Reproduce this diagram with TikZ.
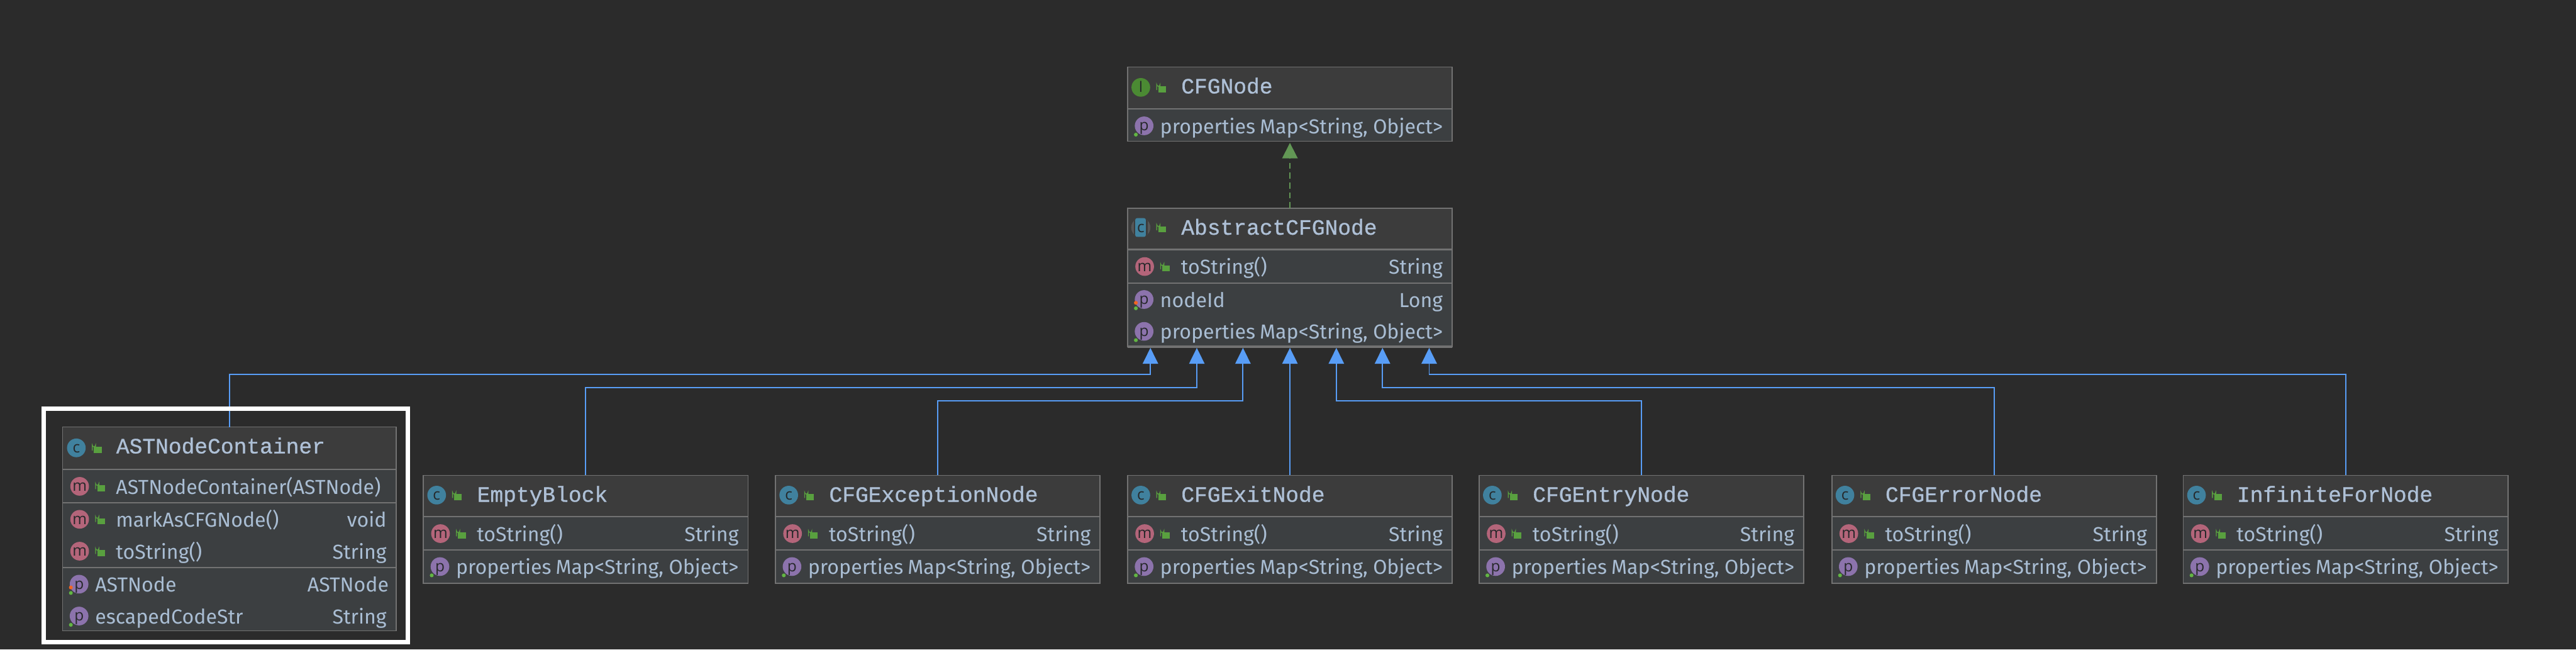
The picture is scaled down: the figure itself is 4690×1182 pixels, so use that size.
\documentclass[tikz,border=0pt]{standalone}
\usepackage{fontspec}
\usetikzlibrary{arrows.meta}
\setmainfont{Fira Sans}
\newfontfamily\titlefam[FakeBold=0.9]{Liberation Mono}
\newfontfamily\glyphfam{Open Sans}
\definecolor{bg}{HTML}{2B2B2B}
\definecolor{headc}{HTML}{3C3C3C}
\definecolor{bodyc}{HTML}{3C3F41}
\definecolor{edgec}{HTML}{727272}
\definecolor{linkc}{HTML}{589DF6}
\definecolor{implc}{HTML}{629755}
\definecolor{textc}{HTML}{A9BDD3}
\definecolor{titlec}{HTML}{AEC0D6}
\definecolor{lockc}{HTML}{59A03F}
\definecolor{cic}{HTML}{40819E}
\definecolor{mic}{HTML}{B4657A}
\definecolor{pic}{HTML}{8C73AC}
\definecolor{iic}{HTML}{4B8A33}
\definecolor{glyphc}{HTML}{26282A}
\definecolor{flagg}{HTML}{62B543}
\definecolor{flago}{HTML}{F26522}
\tikzset{
  umlbox/.style={draw=edgec,line width=2pt,fill=bodyc,inner sep=0pt,outer sep=0pt,anchor=north west},
  sepline/.style={draw=edgec,line width=2.4pt},
  titletext/.style={inner sep=0pt,anchor=base west,text=titlec,font=\titlefam\fontsize{39.6}{39.6}\selectfont},
  rowleft/.style={inner sep=0pt,anchor=base west,text=textc,font=\fontsize{36.8}{36.8}\selectfont},
  rowright/.style={inner sep=0pt,anchor=base east,text=textc,font=\fontsize{36.8}{36.8}\selectfont},
  glyph/.style={inner sep=0pt,anchor=base,text=glyphc,font=\glyphfam\fontsize{28}{28}\selectfont},
  inherit/.style={draw=linkc,line width=2.2pt,-{Triangle[length=29pt,width=28pt,fill=linkc]}},
  realize/.style={draw=implc,line width=2pt,dash pattern=on 11pt off 7pt,-{Triangle[length=28pt,width=28pt,fill=implc]}},
  frameline/.style={draw=white,line width=8pt,inner sep=0pt,outer sep=0pt,anchor=north west}
}
\newcount\itemno
\newcommand{\nextname}{\global\advance\itemno by 1 }
\newcommand{\lockicon}[2]{%
  \fill[lockc] (#1+32,#2-2) rectangle (#1+46,#2+9);
  \draw[lockc,line width=1.5pt] (#1+29,#2+5) -- (#1+29,#2-5) arc[start angle=180,end angle=0,radius=3] -- (#1+35,#2-2);
}
\newcommand{\kindicon}[4]{%
  \fill[#3] (#1,#2) circle[radius=17];
  \nextname\node[glyph] (g\the\itemno) at (#1,#2+9) {#4};
}
\newcommand{\absicon}[2]{%
  \begin{scope}
    \clip (#1,#2) circle[radius=17.5];
    \fill[edgec!120] (#1-18,#2-18) rectangle (#1+18,#2+18);
    \fill[headc] (#1-13,#2-18) rectangle (#1+13,#2+18);
  \end{scope}
  \fill[cic,rounded corners=3pt] (#1-10,#2-17) rectangle (#1+9,#2+17);
  \nextname\node[glyph] (g\the\itemno) at (#1,#2+9) {c};
}
\newcommand{\headline}[6]{%
  \fill[headc] (#2+1,#3+1) rectangle (#2+#4-1,#5);
  \draw[sepline] (#2,#5) -- (#2+#4,#5);
  \node[titletext] (#1title) at (#2+97.5,#3+48) {#6};
}
\newcommand{\methodrow}[5]{%
  \kindicon{#1+31}{#3}{mic}{m}\lockicon{#1+31}{#3}
  \nextname\node[rowleft] (t\the\itemno) at (#1+97,#3+14) {#4};
  \nextname\node[rowright] (t\the\itemno) at (#2-17,#3+14) {#5};
}
\newcommand{\fieldrow}[6]{%
  \kindicon{#1+30}{#3}{pic}{p}
  \fill[flagg] (#1+15,#3+16) circle[radius=3.5];
  \ifnum#4=1 \fill[flago] (#1+15,#3+6) circle[radius=3.5];\fi
  \nextname\node[rowleft] (t\the\itemno) at (#1+59,#3+14) {#5};
  \nextname\node[rowright] (t\the\itemno) at (#2-17,#3+14) {#6};
}
\newcommand{\leafbox}[3]{%
  \node[umlbox,minimum width=591pt,minimum height=196pt] (#1) at (#2,865) {};
  \headline{#1}{#2}{865}{591}{940}{#3}
  \draw[sepline] (#2,1001) -- (#2+591,1001);
  \kindicon{#2+24}{901}{cic}{c}\lockicon{#2+24}{901}
  \methodrow{#2}{#2+591}{971}{toString()}{String}
  \fieldrow{#2}{#2+591}{1031}{0}{properties}{Map<String, Object>}
}
\begin{document}
\begin{tikzpicture}[x=1pt,y=-1pt]
\fill[bg] (0,0) rectangle (4690,1182);
\useasboundingbox (0,0) rectangle (4690,1182);

\node[umlbox,minimum width=591pt,minimum height=135pt] (cfgnode) at (2053,122) {};
\headline{cfgnode}{2053}{122}{591}{198}{CFGNode}
\kindicon{2077}{159}{iic}{I}\lockicon{2077}{159}
\fieldrow{2053}{2644}{229}{0}{properties}{Map<String, Object>}

\node[umlbox,minimum width=591pt,minimum height=252pt] (abstract) at (2053,379) {};
\headline{abstract}{2053}{379}{591}{454}{AbstractCFGNode}
\draw[sepline] (2053,515) -- (2644,515);
\draw[edgec,line width=4pt] (2053,631) -- (2644,631);
\absicon{2077}{414}\lockicon{2077}{414}
\methodrow{2053}{2644}{485}{toString()}{String}
\fieldrow{2053}{2644}{545}{1}{nodeId}{Long}
\fieldrow{2053}{2644}{603}{0}{properties}{Map<String, Object>}

\node[umlbox,minimum width=607pt,minimum height=371pt] (ast) at (114,777) {};
\headline{ast}{114}{777}{607}{854}{ASTNodeContainer}
\draw[sepline] (114,915) -- (721,915);
\draw[sepline] (114,1033) -- (721,1033);
\kindicon{139}{815}{cic}{c}\lockicon{139}{815}
\methodrow{114}{721}{885}{ASTNodeContainer(ASTNode)}{}
\methodrow{114}{721}{945}{markAsCFGNode()}{void}
\methodrow{114}{721}{1003}{toString()}{String}
\fieldrow{114}{725}{1063}{1}{ASTNode}{ASTNode}
\fieldrow{114}{721}{1121}{0}{escapedCodeStr}{String}

\leafbox{empty}{771}{EmptyBlock}
\leafbox{exception}{1412}{CFGExceptionNode}
\leafbox{exit}{2053}{CFGExitNode}
\leafbox{entry}{2693}{CFGEntryNode}
\leafbox{error}{3335}{CFGErrorNode}
\leafbox{infinite}{3975}{InfiniteForNode}

\coordinate (p1) at (2094.5,633);
\coordinate (p2) at (2179,633);
\coordinate (p3) at (2263,633);
\coordinate (p4) at (2348.5,633);
\coordinate (p5) at (2433,633);
\coordinate (p6) at (2517,633);
\coordinate (p7) at (2602,633);
\coordinate (laneA) at (0,681);
\coordinate (laneB) at (0,705);
\coordinate (laneC) at (0,729);
\coordinate (up) at (2348.5,260);

\draw[realize] (abstract.north -| up) -- (up);
\draw[inherit] (ast.north) -- (ast.north |- laneA) -| (p1);
\draw[inherit] (empty.north) -- (empty.north |- laneB) -| (p2);
\draw[inherit] (exception.north) -- (exception.north |- laneC) -| (p3);
\draw[inherit] (exit.north) -- (p4);
\draw[inherit] (entry.north) -- (entry.north |- laneC) -| (p5);
\draw[inherit] (error.north) -- (error.north |- laneB) -| (p6);
\draw[inherit] (infinite.north) -- (infinite.north |- laneA) -| (p7);

\node[frameline,minimum width=662pt,minimum height=424pt] (selection) at (80,744) {};
\end{tikzpicture}
\end{document}
